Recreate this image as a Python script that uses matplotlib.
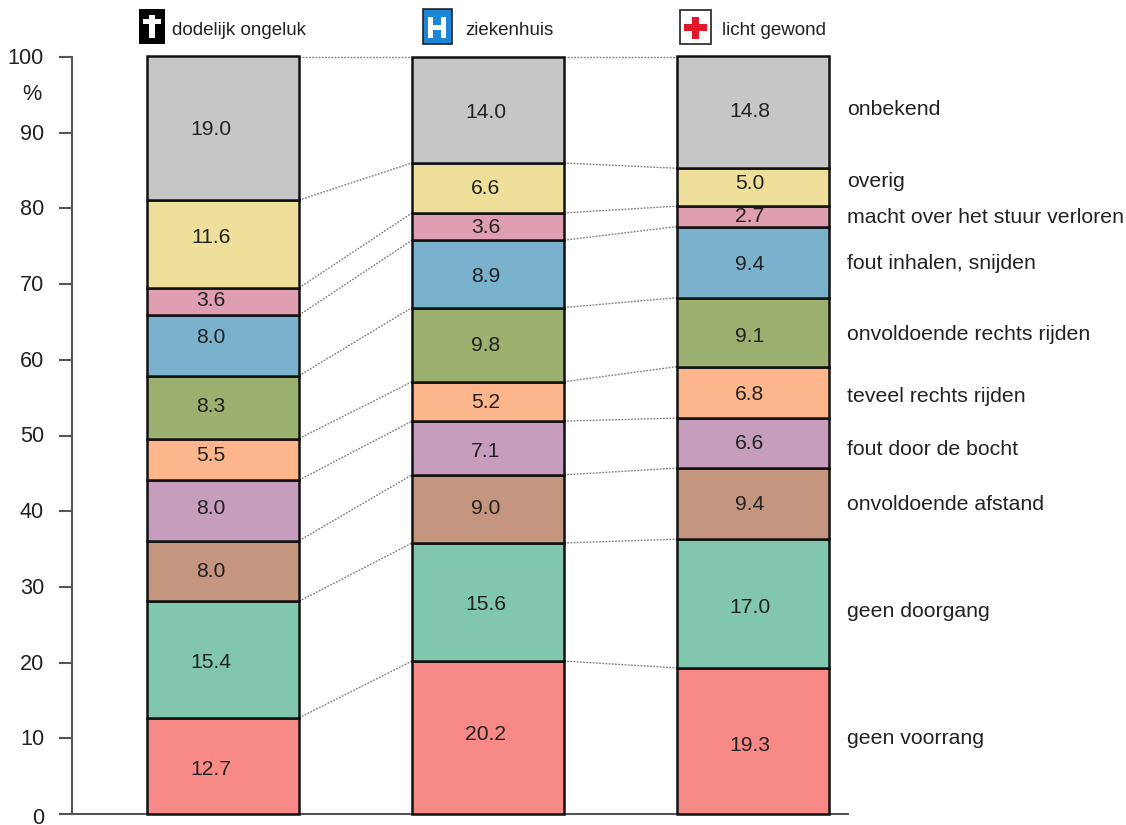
import matplotlib
matplotlib.use("Agg")
import matplotlib.pyplot as plt
from matplotlib.patches import Rectangle

plt.rcParams["font.family"] = ["Liberation Sans", "DejaVu Sans"]

W, H = 1126, 825

causes = ["geen voorrang", "geen doorgang", "onvoldoende afstand", "fout door de bocht",
          "teveel rechts rijden", "onvoldoende rechts rijden", "fout inhalen, snijden",
          "macht over het stuur verloren", "overig", "onbekend"]
colors = ["#F78A87", "#80C7AE", "#C4967F", "#C79DBE", "#FDB58B",
          "#9CB16F", "#7AB2CE", "#DF9FB1", "#EEE09A", "#C6C6C6"]

dodelijk = [12.7, 15.4, 8.0, 8.0, 5.5, 8.3, 8.0, 3.6, 11.6, 19.0]
ziekenhuis = [20.2, 15.6, 9.0, 7.1, 5.2, 9.8, 8.9, 3.6, 6.6, 14.0]
licht = [19.3, 17.0, 9.4, 6.6, 6.8, 9.1, 9.4, 2.7, 5.0, 14.8]
columns = [dodelijk, ziekenhuis, licht]
headers = ["dodelijk ongeluk", "ziekenhuis", "licht gewond"]

# Placement of the printed values and cause names, in image rows and columns
value_rows = [
    [768, 661, 570, 507, 454, 405, 336, 299, 236, 128],
    [733, 603, 507, 450, 401, 344, 275, 226, 187, 111],
    [744, 606, 503, 442, 393, 335, 263, 215, 182, 110],
]
value_cols = [211, 486, 750]
cause_rows = [737, 610, 503, 448, 395, 333, 262, 216, 180, 108]
TEXT_NUDGE = 1.5  # the font's visual centre sits a little above its box centre

fig = plt.figure(figsize=(W / 100, H / 100), dpi=100, facecolor="white")
ax_left, ax_right, ax_top, ax_bottom = 72, 848, 57, 814
ax = fig.add_axes([ax_left / W, 1 - ax_bottom / H,
                   (ax_right - ax_left) / W, (ax_bottom - ax_top) / H])
pitch = 265
bar_width = 152 / pitch
first_centre = 223
ax.set_xlim((ax_left - first_centre) / pitch, (ax_right - first_centre) / pitch)
ax.set_ylim(0, 100)


def put_text(x, row, s, **kw):
    fig.text(x / W, 1 - (row + TEXT_NUDGE) / H, s, va="center", color="#222222", **kw)


tops = []
for i, col in enumerate(columns):
    bottom = 0.0
    col_tops = []
    for j, v in enumerate(col):
        ax.bar(i, v, bottom=bottom, width=bar_width, color=colors[j],
               edgecolor="#111111", linewidth=1.8, clip_on=False, zorder=3)
        put_text(value_cols[i], value_rows[i][j], f"{v:.1f}", ha="center", fontsize=15.2,
                 zorder=5)
        bottom += v
        col_tops.append(min(bottom, 100))
    tops.append(col_tops)

# Dotted connectors between neighbouring columns
for i in range(len(columns) - 1):
    for a, b in zip(tops[i], tops[i + 1]):
        ax.plot([i + bar_width / 2, i + 1 - bar_width / 2], [a, b], ls=(0, (1.3, 1.0)),
                lw=1.0, color="#808080", zorder=2, clip_on=False)

for name, row in zip(causes, cause_rows):
    put_text(847, row, name, ha="left", fontsize=15.3)

for s in ("top", "right"):
    ax.spines[s].set_visible(False)
for s in ("left", "bottom"):
    ax.spines[s].set_color("#555555")
    ax.spines[s].set_linewidth(1.5)

ax.set_xticks([])
ax.set_yticks(range(0, 101, 10))
ax.set_yticklabels([])
ax.tick_params(axis="y", length=9.5, width=1.5, color="#555555")
for t in range(0, 101, 10):
    row = ax_bottom - t * (ax_bottom - ax_top) / 100
    if t == 0:
        row += 2.5
    put_text(44, row, str(t), ha="right", fontsize=15.6)
put_text(32, 93, "%", ha="center", fontsize=15.6)


def box(x0, y0, x1, y1, **kw):
    fig.add_artist(Rectangle((x0 / W, 1 - y1 / H), (x1 - x0) / W, (y1 - y0) / H,
                             transform=fig.transFigure, **kw))


# Header pictograms
box(139, 9, 165, 44, facecolor="black", edgecolor="none")
box(149, 15, 155, 38, facecolor="white", edgecolor="none")
box(143, 19, 161, 24, facecolor="white", edgecolor="none")

box(423, 9, 452, 44, facecolor="#1B86D8", edgecolor="#222222", linewidth=1.2)
box(428, 17, 433, 38, facecolor="white", edgecolor="none")
box(441, 17, 446, 38, facecolor="white", edgecolor="none")
box(428, 25.5, 446, 30, facecolor="white", edgecolor="none")

box(680, 10, 711, 44, facecolor="white", edgecolor="#333333", linewidth=1.3)
box(692, 17, 699, 39, facecolor="#E3172A", edgecolor="none")
box(684, 24, 707, 31, facecolor="#E3172A", edgecolor="none")

for name, x in zip(headers, [172, 465, 722]):
    put_text(x, 29, name, ha="left", fontsize=13.5)

fig.savefig("out.png", dpi=100, facecolor="white")
